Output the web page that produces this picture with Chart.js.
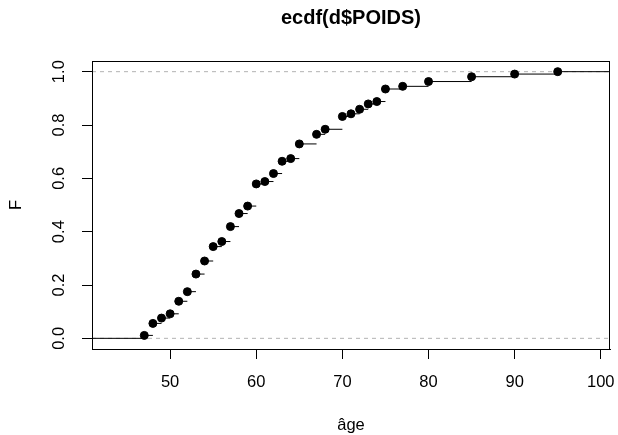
<!DOCTYPE html>
<html>
<head>
<meta charset="utf-8">
<script src="https://cdn.jsdelivr.net/npm/chart.js@4/dist/chart.umd.min.js"></script>
<style>
  html, body { margin: 0; padding: 0; background: #fff; }
  canvas { display: block; }
</style>
</head>
<body>
<canvas id="c" width="618" height="435"></canvas>
<script>
// ---- data ----
const ages = [47, 48, 49, 50, 51, 52, 53, 54, 55, 56, 57, 58, 59, 60, 61, 62, 63, 64, 65, 67, 68, 70, 71, 72, 73, 74, 75, 77, 80, 85, 90, 95];
const Fvals = [0.011, 0.056, 0.076, 0.092, 0.139, 0.175, 0.241, 0.290, 0.344, 0.363, 0.419, 0.468, 0.496, 0.579, 0.588, 0.618, 0.664, 0.674, 0.729, 0.765, 0.784, 0.832, 0.842, 0.859, 0.879, 0.888, 0.935, 0.945, 0.963, 0.981, 0.991, 1.000];
const xTicks = [50, 60, 70, 80, 90, 100];
const yTicks = [0, 0.2, 0.4, 0.6, 0.8, 1.0];
const yTickLabels = ["0.0", "0.2", "0.4", "0.6", "0.8", "1.0"];
const xRange = [40.93, 101.07];
const yRange = [-0.04, 1.04];
const refLevels = [0, 1];
const titleText = "ecdf(d$POIDS)";
const xLabel = "âge";
const yLabel = "F";

// ---- derived structures ----
const FONT = "'Liberation Sans', Arial, Helvetica, sans-serif";
const FS = 16.5;

const points = ages.map((a, i) => ({x: a, y: Fvals[i]}));
const steps = [];
steps.push({x: xRange[0], y: 0}, {x: ages[0], y: 0}, {x: ages[0], y: null});
for (let i = 0; i < ages.length; i++) {
  const xEnd = i < ages.length - 1 ? ages[i + 1] : xRange[1];
  steps.push({x: ages[i], y: Fvals[i]}, {x: xEnd, y: Fvals[i]}, {x: xEnd, y: null});
}
const refSets = refLevels.map(v => ({
  type: 'line',
  data: [{x: xRange[0], y: v}, {x: xRange[1], y: v}],
  borderColor: '#b3b3b3',
  borderWidth: 1,
  borderDash: [4, 4],
  pointRadius: 0,
  order: 3
}));

const framePlugin = {
  id: 'frame',
  afterDraw(chart) {
    const {ctx, chartArea: a} = chart;
    ctx.save();
    ctx.strokeStyle = '#000';
    ctx.lineWidth = 1;
    ctx.strokeRect(Math.round(a.left) + 0.5, Math.round(a.top) + 0.5,
                   Math.round(a.right - a.left) - 1, Math.round(a.bottom - a.top));
    const ys = chart.scales.y;
    ctx.fillStyle = '#000';
    ctx.font = FS + 'px ' + FONT;
    ctx.textAlign = 'center';
    ctx.textBaseline = 'middle';
    yTicks.forEach((v, i) => {
      const py = ys.getPixelForValue(v);
      ctx.save();
      ctx.translate(a.left - 32.5, py);
      ctx.rotate(-Math.PI / 2);
      ctx.fillText(yTickLabels[i], 0, 0);
      ctx.restore();
    });
    ctx.restore();
  }
};

Chart.defaults.color = '#000';
Chart.defaults.font.family = FONT;
Chart.defaults.font.size = FS;

new Chart(document.getElementById('c'), {
  type: 'scatter',
  data: {
    datasets: [
      ...refSets,
      {
        type: 'line',
        data: steps,
        borderColor: '#000',
        borderWidth: 1,
        pointRadius: 0,
        spanGaps: false,
        order: 2
      },
      {
        type: 'scatter',
        data: points,
        backgroundColor: '#000',
        borderColor: '#000',
        borderWidth: 1,
        pointRadius: 4,
        order: 1
      }
    ]
  },
  options: {
    responsive: false,
    animation: false,
    devicePixelRatio: 1,
    layout: {padding: {left: 0, right: 8, top: 0, bottom: 0}},
    plugins: {
      legend: {display: false},
      tooltip: {enabled: false},
      title: {
        display: true,
        text: titleText,
        fullSize: false,
        font: {family: FONT, size: 20, weight: 'bold'},
        color: '#000',
        padding: {top: 6.5, bottom: 30.5}
      }
    },
    scales: {
      x: {
        type: 'linear',
        min: xRange[0],
        max: xRange[1],
        afterBuildTicks: s => { s.ticks = xTicks.map(v => ({value: v})); },
        afterFit: s => { s.height = 86; s.paddingLeft = 0; s.paddingRight = 0; },
        ticks: {
          padding: 14,
          maxRotation: 0,
          font: {family: FONT, size: FS},
          color: '#000',
          callback: v => String(v)
        },
        grid: {display: true, drawOnChartArea: false, drawTicks: true, tickLength: 10, color: '#000', lineWidth: 1},
        border: {display: true, color: '#000', width: 1},
        title: {display: true, text: xLabel, font: {family: FONT, size: FS}, color: '#000', padding: {top: 0, bottom: 0}}
      },
      y: {
        type: 'linear',
        min: yRange[0],
        max: yRange[1],
        afterBuildTicks: s => { s.ticks = yTicks.map(v => ({value: v})); },
        afterFit: s => { s.width = 92; s.paddingTop = 0; s.paddingBottom = 0; },
        ticks: {display: false},
        grid: {display: true, drawOnChartArea: false, drawTicks: true, tickLength: 10, color: '#000', lineWidth: 1},
        border: {display: true, color: '#000', width: 1},
        title: {display: true, text: yLabel, font: {family: FONT, size: FS}, color: '#000', padding: {top: 7, bottom: 0}}
      }
    }
  },
  plugins: [framePlugin]
});
</script>
</body>
</html>
